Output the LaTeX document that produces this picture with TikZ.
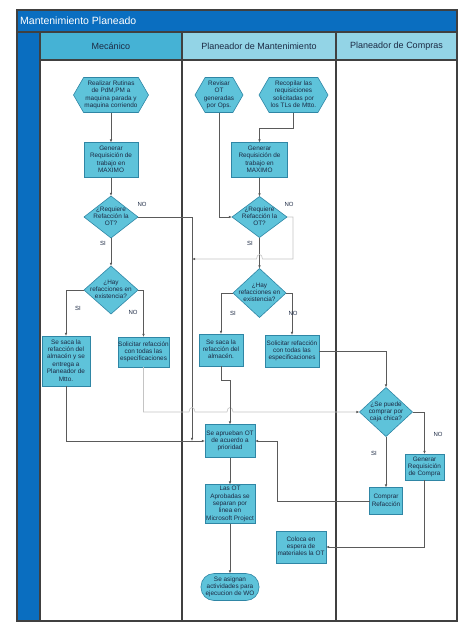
\documentclass[tikz,border=0pt]{standalone}
\usepackage{fontspec}
\setmainfont{Liberation Sans}
\usetikzlibrary{shapes.geometric,shapes.symbols,arrows.meta}
\definecolor{nfill}{HTML}{5EC3DA}
\definecolor{nbord}{HTML}{2F86A5}
\definecolor{ttxt}{HTML}{1C2A44}
\definecolor{titleblue}{HTML}{0A6EC0}
\definecolor{hdrdark}{HTML}{45B2D5}
\definecolor{hdrlight}{HTML}{93D4E6}
\definecolor{framec}{HTML}{404040}
\definecolor{lnk}{HTML}{5A5A5A}
\definecolor{lnklight}{HTML}{C4C4C4}
\newcommand{\zt}[1]{\raisebox{-1.6pt}[0pt][0pt]{\makebox[0pt]{\begin{tabular}{@{}c@{}}#1\end{tabular}}}}
\tikzset{
  base/.style={draw=nbord, fill=nfill, line width=0.6pt, inner sep=0pt, outer sep=0pt, text=ttxt, font=\fontsize{6.4}{7.4}\selectfont},
  proc/.style={base, rectangle},
  dec/.style={base, diamond},
  hexa/.style={base, signal, signal to=east and west, signal pointer angle=120},
  term/.style={base, rectangle, rounded corners=13pt},
  sz/.style 2 args={minimum width=#1pt, minimum height=#2pt},
  lab/.style={font=\fontsize{6}{7}\selectfont, text=ttxt, inner sep=0pt},
  hdr/.style={font=\fontsize{9}{11}\selectfont, text=ttxt, inner sep=0pt},
  flow/.style={draw=lnk, line width=0.6pt, -{Latex[length=3.2pt,width=2.6pt]}},
  flowl/.style={draw=lnklight, line width=0.6pt, -{Latex[length=3.2pt,width=2.6pt,color=lnk]}},
  lane/.style={draw=framec, line width=1.3pt}
}
\begin{document}
\begin{tikzpicture}[x=1pt,y=-1pt]
\useasboundingbox (0,0) rectangle (474,632);
% frame
\fill[titleblue] (17,10) rectangle (457,32);
\fill[titleblue] (17,32) rectangle (40,621);
\fill[hdrdark] (40,32) rectangle (182,60);
\fill[hdrlight] (182,32) rectangle (336,60);
\fill[hdrlight] (336,32) rectangle (457,60);
\draw[lane] (17,32) -- (457,32);
\draw[lane] (40,60) -- (457,60);
\draw[lane] (40,32) -- (40,621);
\draw[lane] (182,32) -- (182,621);
\draw[lane] (336,32) -- (336,621);
\draw[lane] (17,10) rectangle (457,621);
\node[anchor=west, text=white, font=\fontsize{10.5}{12}\selectfont, inner sep=0pt] (title) at (20,21) {Mantenimiento Planeado};
\node[hdr] (h1) at (111,46) {Mecánico};
\node[hdr] (h2) at (259,46) {Planeador de Mantenimiento};
\node[hdr] (h3) at (396.5,46) {Planeador de Compras};
% Mecanico
\node[hexa, sz={75}{35}] (m1) at (111,95) {\zt{Realizar Rutinas\\de PdM,PM a\\maquina parada y\\maquina corriendo}};
\node[proc, sz={54}{35}] (m2) at (111,160) {\zt{Generar\\Requisición de\\trabajo en\\MAXIMO}};
\node[dec, sz={54}{42}] (m3) at (111,217) {\zt{¿Requiere\\Refacción la\\OT?}};
\node[dec, sz={54}{48}] (m4) at (111,290) {\zt{¿Hay\\refacciones en\\existencia?}};
\node[proc, sz={48}{50}] (m5) at (66,361) {\zt{Se saca la\\refacción del\\almacén y se\\entrega a\\Planeador de\\Mtto.}};
\node[proc, sz={51}{30}] (m6) at (143.5,352) {\zt{Solicitar refacción\\con todas las\\especificaciones}};
% Planeador de Mantenimiento
\node[hexa, sz={48}{35}] (p1) at (219,95) {\zt{Revisar\\OT\\generadas\\por Ops.}};
\node[hexa, sz={69}{35}] (p2) at (293.5,95) {\zt{Recopilar las\\requisiciones\\solicitadas por\\los TLs de Mtto.}};
\node[proc, sz={56}{35}] (p3) at (259.5,160) {\zt{Generar\\Requisición de\\trabajo en\\MAXIMO}};
\node[dec, sz={55}{41}] (p4) at (259.5,217) {\zt{¿Requiere\\Refacción la\\OT?}};
\node[dec, sz={53}{49}] (p5) at (259.5,293) {\zt{¿Hay\\refacciones en\\existencia?}};
\node[proc, sz={44}{32}] (p6) at (221,350) {\zt{Se saca la\\refacción del\\almacén.}};
\node[proc, sz={54}{32}] (p7) at (292,351) {\zt{Solicitar refacción\\con todas las\\especificaciones}};
\node[proc, sz={50}{33}] (p8) at (230,441) {\zt{Se aprueban OT\\de acuerdo a\\prioridad}};
\node[proc, sz={50}{39}] (p9) at (230,504) {\zt{Las OT\\Aprobadas se\\separan por\\linea en\\Microsoft Project}};
\node[term, sz={58}{27}] (p10) at (230,587) {\zt{Se asignan\\actividades para\\ejecucion de WO}};
\node[proc, sz={50}{32}] (p11) at (301,547) {\zt{Coloca en\\espera de\\materiales la OT}};
% Compras
\node[dec, sz={53}{49}] (c1) at (386,412) {\zt{¿Se puede\\comprar por\\caja chica?}};
\node[proc, sz={39}{26}] (c2) at (424.5,467) {\zt{Generar\\Requisición\\de Compra}};
\node[proc, sz={33}{27}] (c3) at (386,501) {\zt{Comprar\\Refacción}};
% junctions
\coordinate (j1) at (192,441);
\coordinate (j2) at (192,259);
% connectors Mecanico
\draw[flow] (m1.south) -- (m2.north);
\draw[flow] (m2.south) -- (m3.north);
\draw[flow] (m3.south) -- (m4.north);
\draw[flow] (m3.east) -| (j1);
\draw[flow] (m4.west) -| (m5.north);
\draw[flow] (m4.east) -| (m6.north);
\draw[flow] (m5.south) |- (p8.west);
\draw[flowl] (m6.south) -- (143.5,412) -- (189,412) .. controls (189,406) and (195,406) .. (195,412) -- (227,412) .. controls (227,406) and (233,406) .. (233,412) -- (c1.west);
% connectors Planeador
\draw[flow] (p1.south) |- (p4.west);
\draw[flow] (p2.south) -- ++(0,16) -| (p3.north);
\draw[flow] (p3.south) -- (p4.north);
\draw[flow] (p4.south) -- (p5.north);
\draw[flowl] (p4.east) -- (293,217) -- (293,259) -- (262.5,259) .. controls (262.5,253) and (256.5,253) .. (256.5,259) -- (j2);
\draw[flow] (p5.west) -| (p6.north);
\draw[flow] (p5.east) -| (p7.north);
\draw[flow] (p6.south) -- ++(0,14) -| (p8.north);
\draw[flow] (p7.east) -| (c1.north);
\draw[flow] (p8.south) -- (p9.north);
\draw[flow] (p9.south) -- (p10.north);
% connectors Compras
\draw[flow] (c1.south) -- (c3.north);
\draw[flow] (c1.east) -| (c2.north);
\draw[flow] (c2.south) |- (p11.east);
\draw[flow] (c3.west) -- ++(-92,0) |- (p8.east);
% labels
\node[lab] (l1) at (142,204) {NO};
\node[lab] (l2) at (103,243) {SI};
\node[lab] (l3) at (78,308) {SI};
\node[lab] (l4) at (133,312) {NO};
\node[lab] (l5) at (289,204) {NO};
\node[lab] (l6) at (250,243) {SI};
\node[lab] (l7) at (233,313) {SI};
\node[lab] (l8) at (293,313) {NO};
\node[lab] (l9) at (374,453) {SI};
\node[lab] (l10) at (438,434) {NO};
\end{tikzpicture}
\end{document}
